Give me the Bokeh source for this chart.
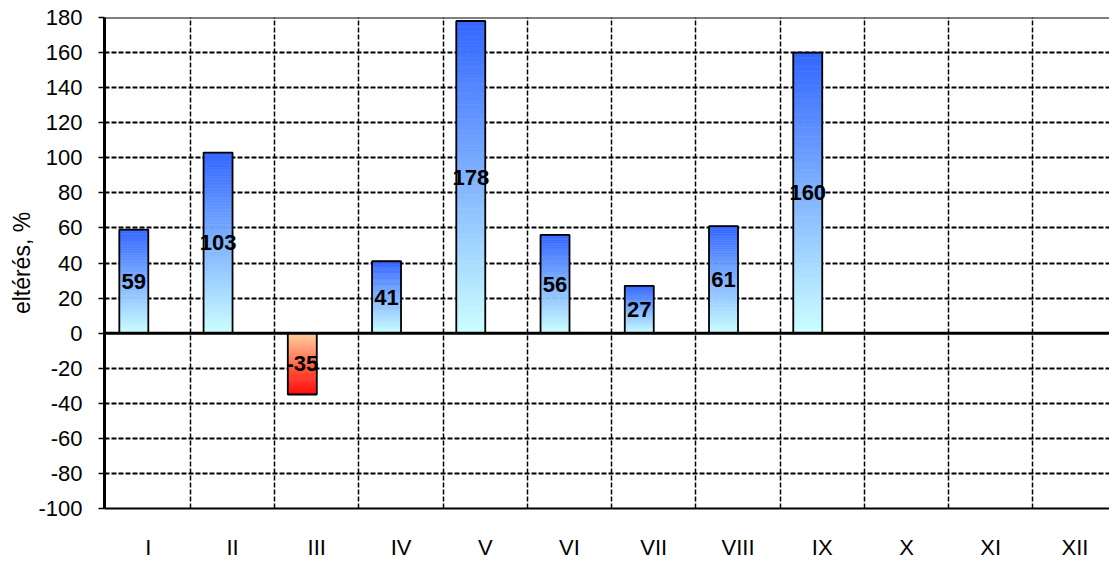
from bokeh.plotting import figure
from bokeh.models import FixedTicker, Span, ColumnDataSource, Range1d
from bokeh.core.properties import value
from bokeh.embed import file_html
from bokeh.resources import INLINE

# ---- data ----
months = ["I", "II", "III", "IV", "V", "VI", "VII", "VIII", "IX", "X", "XI", "XII"]
deviation = [59, 103, -35, 41, 178, 56, 27, 61, 160]   # X..XII no data
labels = ["59", "103", "-35", "41", "178", "56", "27", "61", "160"]
y_ticks = list(range(-100, 181, 20))
y_tick_labels = ["-100", "-80", "-60", "-40", "-20", "0", "20", "40", "60", "80",
                 "100", "120", "140", "160", "180"]
y_label = "eltérés, %"

FONT = "Liberation Sans"
BAR_W = 0.344
BAR_SHIFT = -0.172

def hex2rgb(h):
    h = h.lstrip("#")
    return tuple(int(h[i:i + 2], 16) for i in (0, 2, 4))

def mix(c1, c2, f):
    a, b = hex2rgb(c1), hex2rgb(c2)
    return "#%02x%02x%02x" % tuple(int(round(a[k] * (1 - f) + b[k] * f)) for k in range(3))

POS_TOP, POS_BOT = "#3366ff", "#ccffff"
NEG_TOP, NEG_BOT = "#ffcc99", "#ff0000"

p = figure(width=1109, height=563, output_backend="svg", toolbar_location=None,
           x_range=Range1d(-0.02, 11.91), y_range=Range1d(-100, 180),
           min_border_left=104, min_border_right=0, min_border_top=17, min_border_bottom=55)
p.outline_line_color = None
p.background_fill_color = "white"
p.border_fill_color = "white"

# gradient bars built from slices
N = 60
L, R, B, T, C = [], [], [], [], []
for i, v in enumerate(deviation):
    cx = i + 0.5 + BAR_SHIFT
    lo, hi = min(0, v), max(0, v)
    top_c, bot_c = (POS_TOP, POS_BOT) if v >= 0 else (NEG_TOP, NEG_BOT)
    for j in range(N):
        f = (j + 0.5) / N
        L.append(cx - BAR_W / 2)
        R.append(cx + BAR_W / 2)
        B.append(lo + (hi - lo) * j / N)
        T.append(lo + (hi - lo) * (j + 1) / N)
        C.append(mix(bot_c, top_c, f))
p.quad(left=L, right=R, bottom=B, top=T, fill_color=C, line_color=C, line_width=0.6)

xc = [i + 0.5 + BAR_SHIFT for i in range(len(deviation))]
src = ColumnDataSource(dict(
    x=xc,
    left=[x - BAR_W / 2 for x in xc],
    right=[x + BAR_W / 2 for x in xc],
    bottom=[min(0, v) for v in deviation],
    top=[max(0, v) for v in deviation],
    mid=[v / 2 for v in deviation],
    lab=labels,
))
p.quad(left="left", right="right", bottom="bottom", top="top", source=src,
       fill_color=None, line_color="black", line_width=1.8)

p.text(x="x", y="mid", text="lab", source=src, text_align="center", text_baseline="middle",
       text_font=value(FONT), text_font_style="bold", text_font_size="22px", text_color="black")

# lines
p.add_layout(Span(location=0, dimension="width", line_color="black", line_width=3))
p.add_layout(Span(location=180, dimension="width", line_color="black", line_width=2))

# grids
p.ygrid.ticker = FixedTicker(ticks=[t for t in y_ticks if t not in (0, 180, -100)])
p.ygrid.grid_line_color = "black"
p.ygrid.grid_line_dash = "5 2"
p.ygrid.grid_line_width = 1.8
p.xgrid.ticker = FixedTicker(ticks=list(range(1, 12)))
p.xgrid.grid_line_color = "black"
p.xgrid.grid_line_dash = "5 2"
p.xgrid.grid_line_width = 1.5

# y axis
p.yaxis.ticker = FixedTicker(ticks=y_ticks)
p.yaxis.major_label_overrides = {t: s for t, s in zip(y_ticks, y_tick_labels)}
p.yaxis.axis_line_width = 3
p.yaxis.axis_line_color = "black"
p.yaxis.major_tick_in = 0
p.yaxis.major_tick_out = 6
p.yaxis.major_tick_line_width = 1.5
p.yaxis.minor_tick_line_color = None
p.yaxis.major_label_text_font = FONT
p.yaxis.major_label_text_font_size = "22px"
p.yaxis.major_label_text_color = "black"
p.yaxis.major_label_standoff = 16
p.yaxis.axis_label = y_label
p.yaxis.axis_label_text_font = FONT
p.yaxis.axis_label_text_font_size = "23px"
p.yaxis.axis_label_text_font_style = "normal"
p.yaxis.axis_label_text_color = "black"
p.yaxis.axis_label_standoff = 0

# x axis
p.xaxis.ticker = FixedTicker(ticks=[i + 0.5 for i in range(len(months))])
p.xaxis.major_label_overrides = {i + 0.5: m for i, m in enumerate(months)}
p.xaxis.axis_line_width = 2
p.xaxis.axis_line_color = "black"
p.xaxis.major_tick_line_color = None
p.xaxis.minor_tick_line_color = None
p.xaxis.major_label_text_font = FONT
p.xaxis.major_label_text_font_size = "22px"
p.xaxis.major_label_text_color = "black"
p.xaxis.major_label_standoff = 20

open("out.html", "w").write(file_html(p, INLINE))
